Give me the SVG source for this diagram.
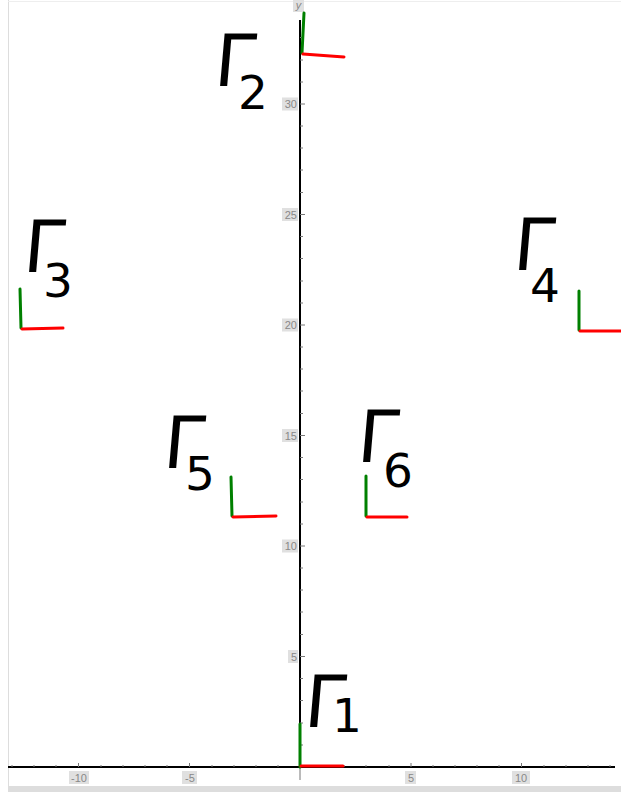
<svg xmlns="http://www.w3.org/2000/svg" width="621" height="792" viewBox="0 0 621 792">
<defs>
<style>
.ax{stroke:#000;stroke-width:2;fill:none}
.tk{stroke:#777;stroke-width:1}
.lb{font-family:"Liberation Sans",Arial,sans-serif;font-size:11px;fill:#888}
.lbg{fill:#e0e0e0}
.gr{stroke:#008000;stroke-width:3;stroke-linecap:round}
.rd{stroke:#ff0000;stroke-width:3;stroke-linecap:round}
.G{font-family:"DejaVu Sans","Liberation Sans",sans-serif;font-size:72px;fill:#000}
.s{font-family:"DejaVu Sans","Liberation Sans",sans-serif;font-size:47px;fill:#000}
</style>
</defs>
<rect width="621" height="792" fill="#fff"/>
<line x1="8.5" y1="0" x2="8.5" y2="786" stroke="#ddd" stroke-width="1"/>
<line x1="8" y1="1.5" x2="621" y2="1.5" stroke="#eee" stroke-width="1"/>
<rect x="8" y="786" width="613" height="6" fill="#ddd"/>
<g id="axes">
<line class="ax" x1="8" y1="767" x2="615" y2="767"/>
<line class="ax" x1="300" y1="20" x2="300" y2="767"/>
<line class="tk" x1="300" y1="767" x2="300" y2="780"/>
<g class="tk">
<path d="M12 767v-2M34 767v-2M56 767v-2M78.5 767v-4M101 767v-2M123 767v-2M145 767v-2M167 767v-2M189.5 767v-4M212 767v-2M234 767v-2M256 767v-2M278 767v-2M322 767v-2M344 767v-2M366 767v-2M389 767v-2M411 767v-4M433 767v-2M455 767v-2M477 767v-2M499 767v-2M521.5 767v-4M544 767v-2M566 767v-2M588 767v-2M610 767v-2"/>
<path d="M300 745h3M300 723h3M300 700.5h3M300 678.5h3M300 656.5h5M300 634.5h3M300 612h3M300 590h3M300 568h3M300 546h5M300 524h3M300 502h3M300 479.5h3M300 457.5h3M300 435.5h5M300 413.5h3M300 391h3M300 369h3M300 347h3M300 325h5M300 303h3M300 281h3M300 258.5h3M300 236.5h3M300 214.5h5M300 192.5h3M300 170h3M300 148h3M300 126h3M300 104h5M300 82h3M300 60h3M300 37.5h3"/>
</g>
<rect class="lbg" x="69" y="771" width="20" height="13"/><text class="lb" x="79" y="781.5" text-anchor="middle">-10</text>
<rect class="lbg" x="182" y="771" width="15" height="13"/><text class="lb" x="190" y="781.5" text-anchor="middle">-5</text>
<rect class="lbg" x="405" y="771" width="11" height="13"/><text class="lb" x="411" y="781.5" text-anchor="middle">5</text>
<rect class="lbg" x="512" y="771" width="18" height="13"/><text class="lb" x="521" y="781.5" text-anchor="middle">10</text>
<rect class="lbg" x="288" y="650" width="10" height="13"/><text class="lb" x="297" y="660.5" text-anchor="end">5</text>
<rect class="lbg" x="282" y="539.5" width="16" height="13"/><text class="lb" x="297" y="550" text-anchor="end">10</text>
<rect class="lbg" x="282" y="429" width="16" height="13"/><text class="lb" x="297" y="439.5" text-anchor="end">15</text>
<rect class="lbg" x="282" y="318.5" width="16" height="13"/><text class="lb" x="297" y="329" text-anchor="end">20</text>
<rect class="lbg" x="282" y="208" width="16" height="13"/><text class="lb" x="297" y="218.5" text-anchor="end">25</text>
<rect class="lbg" x="282" y="97.5" width="16" height="13"/><text class="lb" x="297" y="108" text-anchor="end">30</text>
<rect class="lbg" x="293" y="0" width="11" height="12"/><text class="lb" x="298.5" y="9" text-anchor="middle" font-style="italic">y</text>
</g>
<g id="frames">
<g id="f1"><line class="gr" x1="300" y1="767" x2="300" y2="724"/><line class="rd" x1="301" y1="766" x2="343" y2="766"/></g>
<g id="f2"><line class="gr" x1="304" y1="13" x2="302" y2="53"/><line class="rd" x1="303" y1="54" x2="344" y2="57"/></g>
<g id="f3"><line class="gr" x1="20" y1="289" x2="21" y2="328"/><line class="rd" x1="22" y1="329" x2="63" y2="328"/></g>
<g id="f4"><line class="gr" x1="579" y1="291" x2="579" y2="330"/><line class="rd" x1="580" y1="331" x2="623" y2="331"/></g>
<g id="f5"><line class="gr" x1="231" y1="477" x2="232" y2="516"/><line class="rd" x1="233" y1="517" x2="276" y2="516"/></g>
<g id="f6"><line class="gr" x1="366" y1="476" x2="366" y2="516"/><line class="rd" x1="367" y1="517" x2="407" y2="517"/></g>
</g>
<g id="labels">
<g id="L1"><text class="G" transform="translate(303,727) skewX(-5)">Γ</text><text class="s" x="332" y="732">1</text></g>
<g id="L2"><text class="G" transform="translate(213,86) skewX(-5)">Γ</text><text class="s" x="238" y="109">2</text></g>
<g id="L3"><text class="G" transform="translate(22,272) skewX(-5)">Γ</text><text class="s" x="43" y="297">3</text></g>
<g id="L4"><text class="G" transform="translate(512,270) skewX(-5)">Γ</text><text class="s" x="530" y="302">4</text></g>
<g id="L5"><text class="G" transform="translate(162,468) skewX(-5)">Γ</text><text class="s" x="185" y="490">5</text></g>
<g id="L6"><text class="G" transform="translate(356,462) skewX(-5)">Γ</text><text class="s" x="383" y="487">6</text></g>
</g>
</svg>
